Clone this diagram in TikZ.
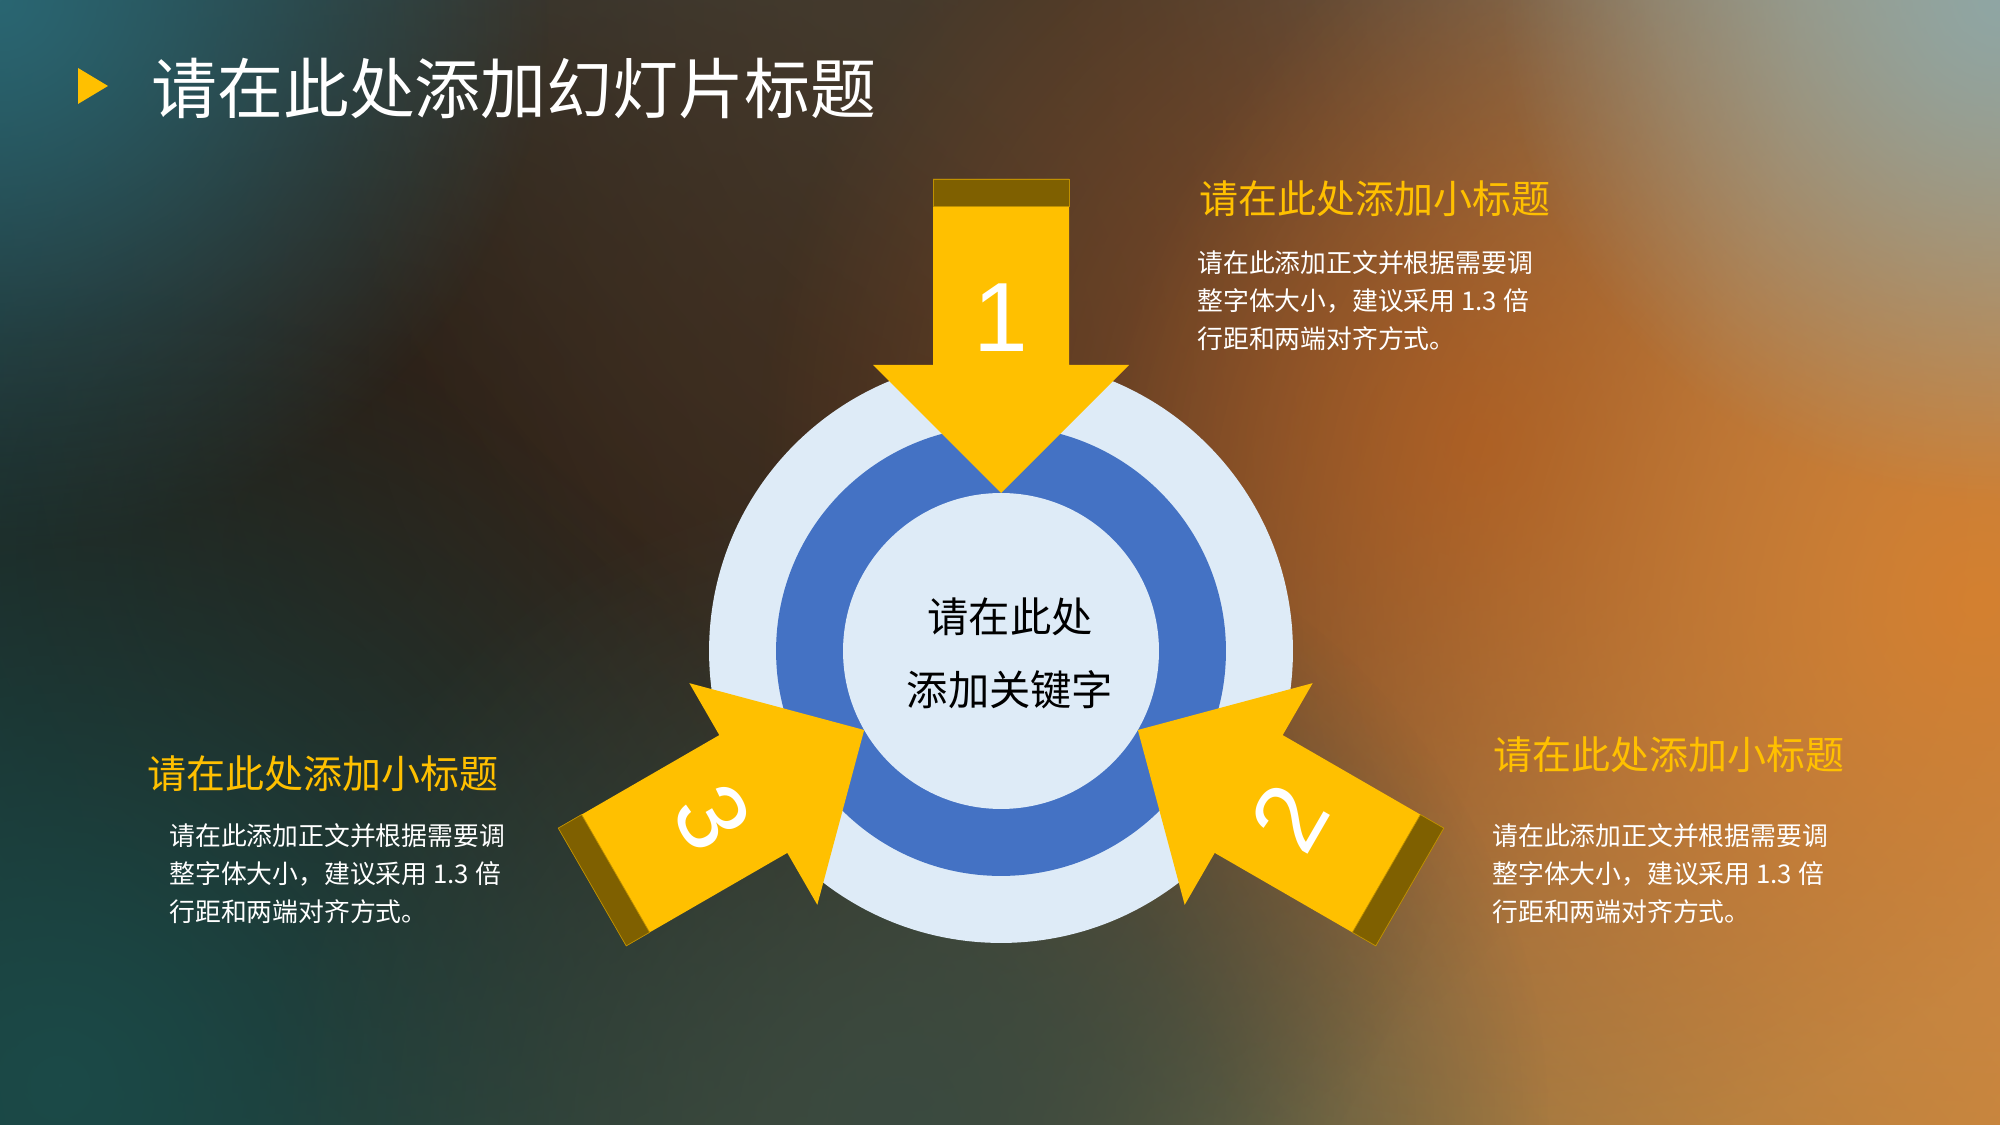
\documentclass[tikz,border=0pt]{standalone}
\usepackage{fontspec}
\newfontfamily\cjk{Noto Sans CJK SC}
\newfontfamily\numfont{Liberation Sans}
\usetikzlibrary{fadings,shadings}
\tikzfading[name=blobfade, inner color=transparent!0, outer color=transparent!100]
\definecolor{gold}{HTML}{FFC000}
\definecolor{golddark}{HTML}{7F6000}
\definecolor{ringblue}{HTML}{4472C4}
\definecolor{paleblue}{HTML}{DEEBF7}
\definecolor{bgUL}{HTML}{2A6470}
\definecolor{bgUR}{HTML}{90A8A8}
\definecolor{bgLL}{HTML}{1A4A48}
\definecolor{bgLR}{HTML}{C08A48}
\definecolor{bDark}{HTML}{1E1C18}
\definecolor{bDarker}{HTML}{1A1814}
\definecolor{bBrown}{HTML}{3C281A}
\definecolor{bRust}{HTML}{914A1E}
\definecolor{bOrange}{HTML}{D48030}
\definecolor{bGrey}{HTML}{8FA6A4}
\definecolor{bTeal}{HTML}{2A6672}
\definecolor{bTealDark}{HTML}{1B4A48}
\definecolor{bMoss}{HTML}{3A4A40}
\definecolor{bTop}{HTML}{46392A}
\tikzset{
  blob/.style={fill=#1, path fading=blobfade},
  arrowbody/.style={fill=gold},
  arrowband/.style={fill=golddark, draw=gold!75!black, line width=0.4pt},
  numlabel/.style={text=white, font=\numfont\fontsize{56}{60}\selectfont, inner sep=0},
  titletext/.style={anchor=west, text=white, inner sep=0, font=\cjk\fontsize{37.5}{42}\selectfont},
  subtitle/.style={anchor=west, text=gold, inner sep=0, font=\cjk\fontsize{22.2}{26}\selectfont},
  bodytext/.style={anchor=west, text=white, inner sep=0, align=left, font=\cjk\fontsize{14.7}{21.7}\selectfont},
  centertext/.style={text=black, inner sep=0, align=center, font=\cjk\fontsize{23.5}{42}\selectfont},
}
\begin{document}
\begin{tikzpicture}[x=0.02cm,y=0.02cm]
\useasboundingbox (0,0) rectangle (2000,1125);
% background
\shade[upper left=bgUL, upper right=bgUR, lower left=bgLL, lower right=bgLR] (0,0) rectangle (2000,1125);
\fill[blob=bDark] (350,575) circle (1150);
\fill[blob=bDarker] (350,575) circle (700);
\fill[blob=bBrown] (820,775) circle (900);
\fill[blob=bTop] (1050,1125) circle (750);
\fill[blob=bRust] (1480,680) circle (720);
\fill[blob=bOrange] (1980,525) circle (900);
\fill[blob=bGrey] (2000,1125) circle (500);
\fill[blob=bTeal] (0,1125) circle (550);
\fill[blob=bTealDark] (60,40) circle (800);
\fill[blob=bMoss] (900,0) circle (650);
% title marker
\fill[gold] (78,1057) -- (78,1021) -- (108,1039) -- cycle;
\node[titletext] (title) at (151,1036) {请在此处添加幻灯片标题};
% circles
\coordinate (C) at (1001,474);
\node[circle, fill=paleblue, minimum size=11.68cm, inner sep=0] (outer) at (C) {};
\node[circle, fill=ringblue, minimum size=9.0cm, inner sep=0] (ring) at (C) {};
\node[circle, fill=paleblue, minimum size=6.32cm, inner sep=0] (inner) at (C) {};
% arrows
\foreach \ang/\num/\trot in {0/1/0, -120/2/60, 120/3/-60} {
  \begin{scope}[shift={(C)}, rotate=\ang]
    \fill[arrowbody] (-68,472) -- (68,472) -- (68,286) -- (128,286) -- (0,158) -- (-128,286) -- (-68,286) -- cycle;
    \filldraw[arrowband] (-68,472) rectangle (68,445);
    \node[numlabel, rotate=\trot] (num\num) at (0,333) {\num};
  \end{scope}
}
\node[centertext] (key) at (1010,471.5) {请在此处\\添加关键字};
% text blocks
\node[subtitle] (sub1) at (1199,926) {请在此处添加小标题};
\node[bodytext] (body1) at (1197,824) {请在此添加正文并根据需要调\\整字体大小，建议采用 1.3 倍\\行距和两端对齐方式。};
\node[subtitle] (sub2) at (1493,370) {请在此处添加小标题};
\node[bodytext] (body2) at (1492,251) {请在此添加正文并根据需要调\\整字体大小，建议采用 1.3 倍\\行距和两端对齐方式。};
\node[subtitle] (sub3) at (147,351) {请在此处添加小标题};
\node[bodytext] (body3) at (169,251) {请在此添加正文并根据需要调\\整字体大小，建议采用 1.3 倍\\行距和两端对齐方式。};
\end{tikzpicture}
\end{document}
